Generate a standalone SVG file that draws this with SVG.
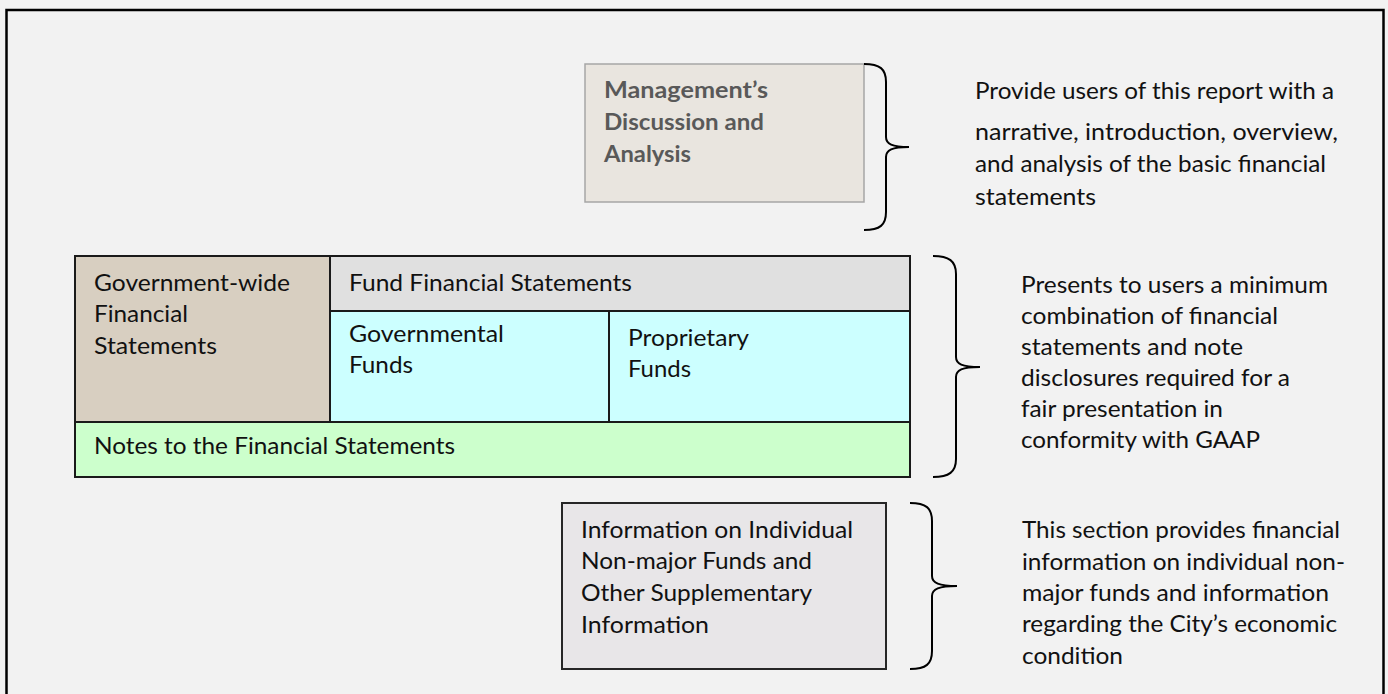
<svg xmlns="http://www.w3.org/2000/svg" width="1388" height="694" viewBox="0 0 1388 694">
<style>
text{font-family:Lato,"Open Sans","Liberation Sans",sans-serif;font-size:23px;fill:#111}
.b{font-weight:bold;fill:#595959}
.brace{fill:none;stroke:#000;stroke-width:2}
.cell{stroke:#1a1a1a;stroke-width:2}
</style>
<rect x="0" y="0" width="1388" height="694" fill="#f2f2f2"/>
<rect x="6.5" y="10" width="1377" height="700" fill="#f2f2f2" stroke="#000" stroke-width="2.5"/>
<g id="mdna">
<rect x="585" y="64" width="279" height="138" fill="#e9e5df" stroke="#a6a6a6" stroke-width="1.5"/>
<text class="b" x="604" y="98" textLength="164" lengthAdjust="spacingAndGlyphs">Management’s</text>
<text class="b" x="604" y="130" textLength="160" lengthAdjust="spacingAndGlyphs">Discussion and</text>
<text class="b" x="604" y="162" textLength="87" lengthAdjust="spacingAndGlyphs">Analysis</text>
</g>
<g id="mdna-desc">
<text x="975" y="99" textLength="359" lengthAdjust="spacingAndGlyphs">Provide users of this report with a</text>
<text x="975" y="140" textLength="363" lengthAdjust="spacingAndGlyphs">narrative, introduction, overview,</text>
<text x="975" y="172" textLength="351" lengthAdjust="spacingAndGlyphs">and analysis of the basic financial</text>
<text x="975" y="205" textLength="121" lengthAdjust="spacingAndGlyphs">statements</text>
</g>
<g id="govwide">
<rect class="cell" x="75" y="256" width="255" height="166" fill="#d8cfc1"/>
<text x="94" y="291" textLength="196" lengthAdjust="spacingAndGlyphs">Government-wide</text>
<text x="94" y="322" textLength="94" lengthAdjust="spacingAndGlyphs">Financial</text>
<text x="94" y="354" textLength="123" lengthAdjust="spacingAndGlyphs">Statements</text>
</g>
<g id="fundfs">
<rect class="cell" x="330" y="256" width="580" height="55" fill="#e0e0e0"/>
<text x="349" y="291" textLength="283" lengthAdjust="spacingAndGlyphs">Fund Financial Statements</text>
</g>
<g id="govfunds">
<rect class="cell" x="330" y="311" width="279" height="111" fill="#ccffff"/>
<text x="349" y="342" textLength="155" lengthAdjust="spacingAndGlyphs">Governmental</text>
<text x="349" y="373" textLength="64" lengthAdjust="spacingAndGlyphs">Funds</text>
</g>
<g id="propfunds">
<rect class="cell" x="609" y="311" width="301" height="111" fill="#ccffff"/>
<text x="628" y="346" textLength="121" lengthAdjust="spacingAndGlyphs">Proprietary</text>
<text x="628" y="377" textLength="63" lengthAdjust="spacingAndGlyphs">Funds</text>
</g>
<g id="notes">
<rect class="cell" x="75" y="422" width="835" height="55" fill="#ccffcc"/>
<text x="94" y="454" textLength="361" lengthAdjust="spacingAndGlyphs">Notes to the Financial Statements</text>
</g>
<g id="basic-desc">
<text x="1021" y="293" textLength="307" lengthAdjust="spacingAndGlyphs">Presents to users a minimum</text>
<text x="1021" y="324" textLength="257" lengthAdjust="spacingAndGlyphs">combination of financial</text>
<text x="1021" y="355" textLength="222" lengthAdjust="spacingAndGlyphs">statements and note</text>
<text x="1021" y="386" textLength="269" lengthAdjust="spacingAndGlyphs">disclosures required for a</text>
<text x="1021" y="417" textLength="202" lengthAdjust="spacingAndGlyphs">fair presentation in</text>
<text x="1021" y="448" textLength="239" lengthAdjust="spacingAndGlyphs">conformity with GAAP</text>
</g>
<g id="supplementary">
<rect x="562" y="503" width="324" height="166" fill="#e8e6e8" stroke="#262626" stroke-width="2"/>
<text x="581" y="538" textLength="272" lengthAdjust="spacingAndGlyphs">Information on Individual</text>
<text x="581" y="569" textLength="231" lengthAdjust="spacingAndGlyphs">Non-major Funds and</text>
<text x="581" y="601" textLength="231" lengthAdjust="spacingAndGlyphs">Other Supplementary</text>
<text x="581" y="633" textLength="128" lengthAdjust="spacingAndGlyphs">Information</text>
</g>
<g id="supp-desc">
<text x="1022" y="538" textLength="318" lengthAdjust="spacingAndGlyphs">This section provides financial</text>
<text x="1022" y="569.5" textLength="323" lengthAdjust="spacingAndGlyphs">information on individual non-</text>
<text x="1022" y="601" textLength="307" lengthAdjust="spacingAndGlyphs">major funds and information</text>
<text x="1022" y="632" textLength="315" lengthAdjust="spacingAndGlyphs">regarding the City’s economic</text>
<text x="1022" y="663.5" textLength="101" lengthAdjust="spacingAndGlyphs">condition</text>
</g>
<g id="connectors">
<path class="brace" d="M864,64 C880,64 886,69 886,82 L886,137 C886,144 892,147 909,147 C892,147 886,150 886,157 L886,212 C886,225 880,230 864,230"/>
<path class="brace" d="M933,256 C949,256 956,261 956,274 L956,357 C956,364 962,367 980,367 C962,367 956,370 956,377 L956,459 C956,472 949,477 933,477"/>
<path class="brace" d="M910,503 C926,503 932,508 932,521 L932,576 C932,583 939,586 957,586 C939,586 932,589 932,596 L932,651 C932,664 926,669 910,669"/>
</g>
</svg>
